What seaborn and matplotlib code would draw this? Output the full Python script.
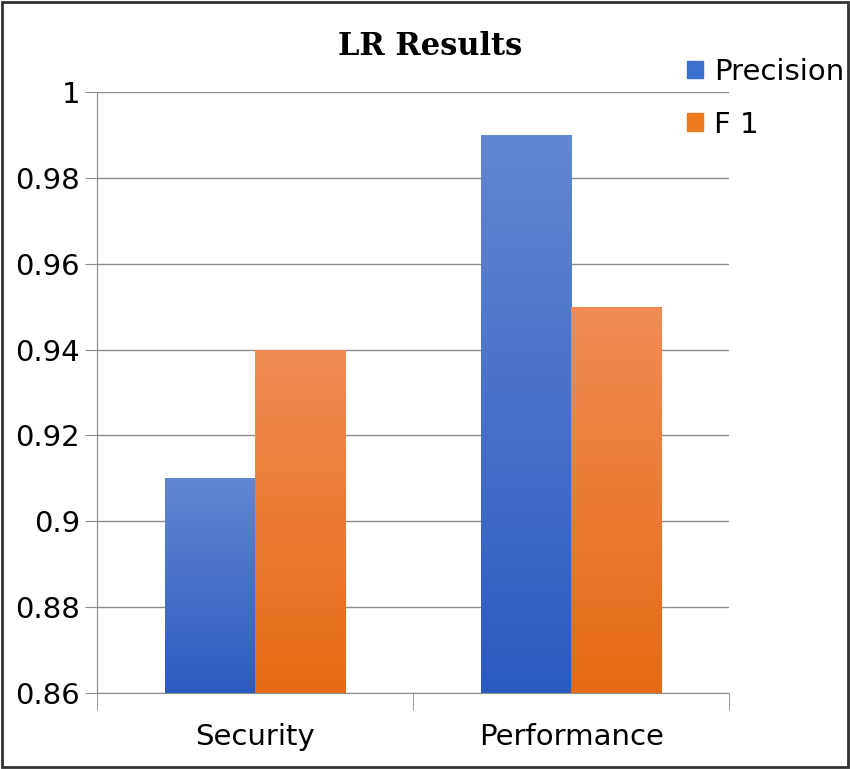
import numpy as np
import pandas as pd
import seaborn as sns
import matplotlib.pyplot as plt
from matplotlib.colors import LinearSegmentedColormap
from matplotlib.patches import Patch, Rectangle

# data
categories = ['Security', 'Performance']
precision = [0.91, 0.99]
f1 = [0.94, 0.95]
series = ['Precision', 'F 1']

df = pd.DataFrame({
    'category': categories * 2,
    'metric': [series[0]] * 2 + [series[1]] * 2,
    'value': precision + f1,
})

blue = '#3b6fd0'
orange = '#ee7a22'

fig = plt.figure(figsize=(8.5, 7.69), dpi=100)
ax = fig.add_axes([0.114, 0.099, 0.744, 0.781])
sns.barplot(data=df, x='category', y='value', hue='metric', palette=[blue, orange],
            width=0.57, ax=ax, legend=False, zorder=2)

# vertical gradient on each bar
grads = {
    blue: LinearSegmentedColormap.from_list('b', ['#2a5bbf', '#6287d2']),
    orange: LinearSegmentedColormap.from_list('o', ['#e56a14', '#f08c55']),
}
ymin = 0.86
for i, p in enumerate(list(ax.patches)):
    cmap = grads[blue] if i < 2 else grads[orange]
    x0, w, h = p.get_x(), p.get_width(), p.get_height()
    top = p.get_y() + h
    im = ax.imshow(np.linspace(0, 1, 256).reshape(-1, 1), cmap=cmap, origin='lower',
                   extent=[x0, x0 + w, ymin, top], aspect='auto', zorder=3)
    im.set_clip_path(Rectangle((x0, ymin), w, top - ymin, transform=ax.transData))
    p.set_visible(False)

ax.set_xlim(-0.5, 1.5)
ax.set_ylim(0.86, 1.0)
ax.set_yticks(np.arange(0.86, 1.001, 0.02))
ax.set_yticklabels(['0.86', '0.88', '0.9', '0.92', '0.94', '0.96', '0.98', '1'])
ax.yaxis.grid(True, color='#8c8c8c', linewidth=1)
ax.set_axisbelow(True)
ax.set_xlabel('')
ax.set_ylabel('')
for s in ['top', 'right']:
    ax.spines[s].set_visible(False)
ax.spines['left'].set_color('#8c8c8c')
ax.spines['bottom'].set_color('#8c8c8c')
ax.tick_params(axis='y', labelsize=21, length=9, color='#8c8c8c', pad=3)
ax.tick_params(axis='x', which='major', labelsize=21, length=0, pad=22)
ax.set_xticks([-0.5, 0.5, 1.5], minor=True)
ax.tick_params(axis='x', which='minor', length=12, color='#8c8c8c')

fig.text(0.506, 0.94, 'LR Results', ha='center', va='center', fontsize=22,
         fontweight='bold', family='DejaVu Serif')

handles = [Patch(color=blue), Patch(color=orange)]
fig.legend(handles, series, loc='upper left', bbox_to_anchor=(0.795, 0.94),
           frameon=False, fontsize=21, handlelength=0.55, handleheight=0.55,
           labelspacing=0.85, handletextpad=0.35, borderaxespad=0)

fig.patches.append(Rectangle((0.002, 0.002), 0.996, 0.996, transform=fig.transFigure,
                             fill=False, edgecolor='#333333', linewidth=2))
fig.savefig('out.png', dpi=100)
